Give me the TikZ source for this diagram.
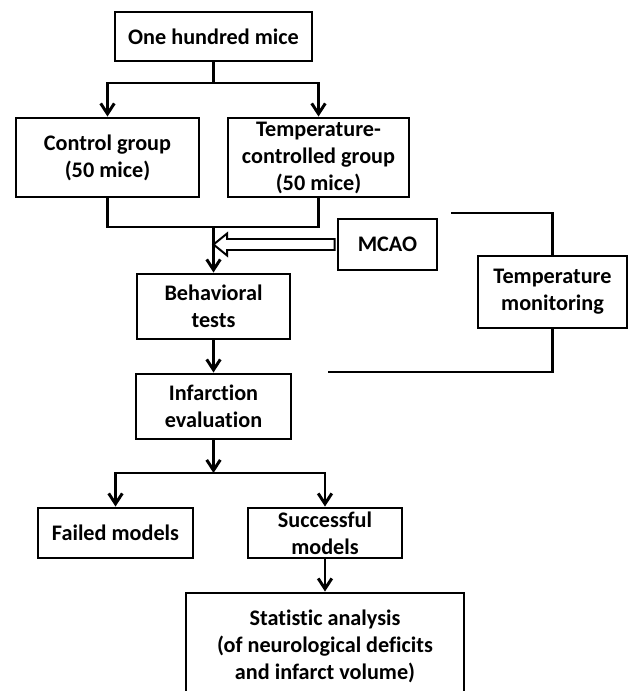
\documentclass[tikz,border=0pt]{standalone}
\usepackage{fontspec}
\setmainfont{Carlito}[Ligatures={NoCommon}]
\usetikzlibrary{arrows.meta,calc}
\tikzset{%
  >={Straight Barb[length=0.26cm,width=0.34cm]}, % default arrow style
  box/.style={draw,line width=2.1pt,inner sep=0pt,align=center,%
    font=\fontsize{15.8pt}{19.2pt}\selectfont\bfseries},%
  link/.style={line width=2.1pt},%
  hollow/.style={draw,fill=white,line width=1.4pt,line join=miter}%
}

\begin{document}
\begin{tikzpicture}
  \useasboundingbox (0,0) rectangle (15.825,-17.275);
  % boxes
  \node[box,minimum width=4.925cm,minimum height=1.225cm] (mice)   at (5.3375,-0.9125)  {One hundred mice};
  \node[box,minimum width=4.575cm,minimum height=1.975cm] (ctrl)   at (2.6875,-3.9375)  {Control group\\(50 mice)};
  \node[box,minimum width=4.525cm,minimum height=1.975cm] (temp)   at (7.9625,-3.9375)  {Temperature-\\controlled group\\(50 mice)};
  \node[box,minimum width=2.475cm,minimum height=1.275cm] (mcao)   at (9.6875,-6.1125)  {MCAO};
  \node[box,minimum width=3.725cm,minimum height=1.8cm]   (mon)    at (13.8125,-7.3)    {Temperature\\monitoring};
  \node[box,minimum width=3.825cm,minimum height=1.625cm] (behav)  at (5.3375,-7.6625)  {Behavioral\\tests};
  \node[box,minimum width=3.875cm,minimum height=1.625cm] (infarc) at (5.3375,-10.1625) {Infarction\\evaluation};
  \node[box,minimum width=3.875cm,minimum height=1.25cm]  (failed) at (2.8875,-13.325)  {Failed models};
  \node[box,minimum width=3.85cm,minimum height=1.25cm]   (succ)   at (8.125,-13.325)   {Successful\\models};
  \node[box,minimum width=6.95cm,minimum height=2.675cm]  (stat)   at (8.125,-16.1625)  {Statistic analysis\\(of neurological deficits\\and infarct volume)};
  % coordinates
  \coordinate (split)  at (5.3375,-2.075);
  \coordinate (join)   at (5.3375,-5.675);
  \coordinate (mtip)   at (5.3375,-6.1125);
  \coordinate (montop) at (11.275,-5.325);
  \coordinate (monbot) at (8.2,-9.3);
  \coordinate (split2) at (5.3375,-11.825);
  % connectors
  \draw[link] (mice) -- (split);
  \draw[link,->] (split) -| (ctrl);
  \draw[link,->] (split) -| (temp);
  \draw[link] (ctrl) |- (join) -| (temp);
  \draw[link,->] (join) -- (behav);
  \draw[link,->] (behav) -- (infarc);
  \draw[link,->] (infarc) -- (split2);
  \draw[link,->] (split2) -| (failed);
  \draw[link,->] (split2) -| (succ);
  \draw[link,->] (succ) -- (stat);
  % MCAO arrow
  \draw[hollow] (mtip) -- ++(0.34,0.275) -- ++(0,-0.1375)
    -- ([shift={(-0.05,0.1375)}]mcao.west) -- ([shift={(-0.05,-0.1375)}]mcao.west)
    -- ($(mtip)+(0.34,-0.1375)$) -- ++(0,-0.1375) -- cycle;
  % monitoring
  \draw[link] (montop) -| (mon);
  \draw[link] (mon) |- (monbot);
\end{tikzpicture}
\end{document}
